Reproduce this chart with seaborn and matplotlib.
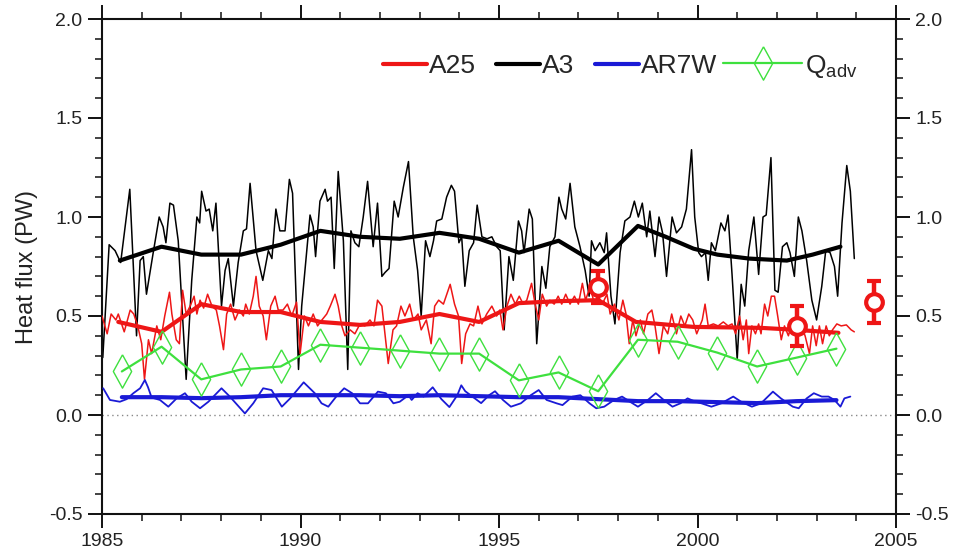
import matplotlib
matplotlib.use("Agg")
import matplotlib.pyplot as plt
from matplotlib.lines import Line2D
from matplotlib.ticker import MultipleLocator, FormatStrFormatter
import seaborn as sns
import pandas as pd

# ---------------- data ----------------
a3_time = [1985.02,1985.18,1985.33,1985.47,1985.70,1985.87,1985.96,1986.04,1986.12,1986.29,1986.44,1986.54,1986.61,1986.71,1986.80,
           1986.92,1987.12,1987.26,1987.39,1987.46,1987.51,1987.62,1987.70,1987.79,1987.87,1988.01,1988.10,1988.18,1988.31,1988.43,
           1988.56,1988.64,1988.73,1988.88,1989.05,1989.19,1989.28,1989.38,1989.48,1989.61,1989.72,1989.80,1989.95,
           1990.03,1990.24,1990.32,1990.38,1990.49,1990.62,1990.68,1990.77,1990.85,1990.95,1991.08,1991.19,1991.27,1991.37,1991.47,
           1991.58,1991.69,1991.83,1991.94,1992.05,1992.13,1992.23,1992.36,1992.46,1992.59,1992.72,1992.84,1992.95,1993.04,1993.15,
           1993.26,1993.35,1993.43,1993.56,1993.68,1993.80,1993.88,1993.99,1994.06,1994.14,1994.25,1994.36,1994.45,1994.57,1994.70,
           1994.82,1994.94,
           1995.03,1995.13,1995.25,1995.36,1995.49,1995.57,1995.63,1995.76,1995.84,1995.95,1996.08,1996.18,1996.28,1996.41,1996.51,
           1996.58,1996.68,1996.79,1996.91,1997.04,1997.17,1997.27,1997.33,1997.42,1997.54,1997.65,1997.71,1997.82,1997.92,1998.05,
           1998.17,1998.30,1998.41,1998.51,1998.61,1998.72,1998.80,1998.93,1999.03,1999.12,1999.22,1999.36,1999.47,1999.60,1999.72,
           1999.85,1999.93,
           2000.03,2000.10,2000.20,2000.27,2000.35,2000.45,2000.59,2000.69,2000.77,2000.87,2001.00,2001.10,2001.19,2001.29,2001.42,
           2001.54,2001.65,2001.73,2001.85,2001.95,2002.03,2002.14,2002.25,2002.33,2002.44,2002.54,2002.63,2002.75,2002.88,2003.00,
           2003.13,2003.23,2003.34,2003.45,2003.53,2003.64,2003.76,2003.85,2003.95]
a3_value = [0.29,0.86,0.83,0.77,1.14,0.40,0.78,0.80,0.61,0.82,1.00,0.95,0.87,1.07,1.06,
            0.88,0.18,0.68,1.00,0.97,1.13,1.03,1.04,0.93,1.07,0.55,0.73,0.79,0.55,0.77,
            0.93,0.94,1.17,0.83,0.68,0.83,0.79,1.04,0.93,0.93,1.19,1.12,0.23,
            0.55,1.01,0.95,0.80,1.08,1.14,1.08,1.10,0.74,1.23,0.88,0.23,0.93,0.87,0.85,
            1.00,1.18,0.85,1.07,0.70,0.72,0.74,1.08,1.00,1.15,1.28,0.90,0.73,0.50,0.88,
            0.80,0.88,0.98,0.99,1.10,1.16,1.13,0.87,0.90,0.65,0.83,0.87,1.06,0.90,0.89,
            0.90,0.85,
            0.83,0.43,0.80,0.68,0.98,0.93,0.82,1.04,0.99,0.36,0.75,0.64,0.85,0.90,1.10,
            1.04,0.99,1.17,0.95,0.85,0.73,0.60,0.88,0.83,0.87,0.82,0.92,0.60,0.46,0.82,
            0.98,1.00,1.08,1.00,1.07,0.90,1.03,0.80,1.00,0.92,0.70,1.00,0.92,0.95,1.04,
            1.34,1.00,
            0.82,0.80,0.82,0.68,0.87,0.83,0.97,0.93,1.01,0.71,0.28,0.66,0.55,0.83,1.00,
            0.71,1.00,1.01,1.30,0.63,0.62,0.85,0.87,0.82,0.70,1.00,0.93,0.78,0.58,0.48,
            0.65,0.83,0.82,0.75,0.60,0.97,1.26,1.13,0.79]

a3_smooth_time = [1985.45,1986.5,1987.5,1988.5,1989.5,1990.5,1991.5,1992.5,1993.5,1994.5,1995.5,1996.5,1997.5,
                  1998.5,1999.2,1999.9,2000.5,2001.3,2002.25,2002.9,2003.6]
a3_smooth_value = [0.78,0.85,0.81,0.81,0.86,0.93,0.90,0.89,0.92,0.89,0.82,0.88,0.76,
                   0.955,0.90,0.84,0.81,0.79,0.78,0.81,0.85]

a25_time = [1985.00,1985.13,1985.23,1985.35,1985.41,1985.56,1985.71,1985.80,1985.90,1986.00,1986.07,1986.17,1986.25,1986.38,
            1986.48,1986.58,1986.70,1986.76,1986.87,1986.95,1987.03,1987.12,1987.22,1987.32,1987.39,1987.47,1987.56,1987.66,
            1987.77,1987.88,1987.96,1988.06,1988.14,1988.24,1988.35,1988.46,1988.56,1988.62,1988.71,1988.81,1988.88,1988.96,
            1989.06,1989.14,1989.25,1989.36,1989.44,1989.56,1989.67,1989.78,1989.90,
            1989.99,1990.10,1990.20,1990.32,1990.43,1990.54,1990.66,1990.75,1990.87,1990.95,1991.04,1991.12,1991.25,1991.37,
            1991.50,1991.62,1991.75,1991.85,1991.94,1992.05,1992.21,1992.33,1992.42,1992.53,1992.63,1992.75,1992.84,1992.96,
            1993.04,1993.17,1993.29,1993.38,1993.48,1993.60,1993.77,1993.88,1993.98,1994.06,1994.16,1994.27,1994.36,1994.47,
            1994.57,1994.69,1994.82,1994.94,
            1995.02,1995.10,1995.20,1995.30,1995.41,1995.51,1995.61,1995.70,1995.82,1995.91,1996.00,1996.09,1996.20,1996.28,
            1996.39,1996.49,1996.58,1996.68,1996.79,1996.90,1997.00,1997.10,1997.18,1997.30,1997.40,1997.50,1997.60,1997.72,
            1997.80,1997.91,1998.02,1998.12,1998.20,1998.28,1998.37,1998.45,1998.56,1998.64,1998.75,1998.85,1998.93,1999.03,
            1999.14,1999.25,1999.35,1999.47,1999.58,1999.68,1999.78,1999.88,1999.98,
            2000.12,2000.19,2000.27,2000.40,2000.52,2000.65,2000.77,2000.87,2000.96,2001.06,2001.15,2001.23,2001.29,2001.37,
            2001.46,2001.54,2001.60,2001.69,2001.77,2001.86,2001.94,2002.02,2002.11,2002.19,2002.29,2002.40,2002.52,2002.61,
            2002.71,2002.82,2002.90,2002.99,2003.07,2003.15,2003.24,2003.32,2003.40,2003.51,2003.62,2003.75,2003.87,2003.95]
a25_value = [0.50,0.41,0.51,0.48,0.51,0.42,0.53,0.51,0.45,0.36,0.18,0.38,0.31,0.45,
             0.38,0.50,0.62,0.51,0.38,0.36,0.63,0.51,0.55,0.60,0.51,0.58,0.54,0.61,
             0.55,0.53,0.45,0.33,0.51,0.56,0.48,0.53,0.50,0.56,0.51,0.60,0.70,0.55,
             0.50,0.38,0.55,0.60,0.53,0.53,0.56,0.50,0.57,
             0.31,0.50,0.45,0.51,0.45,0.48,0.51,0.55,0.61,0.55,0.45,0.40,0.43,0.41,
             0.46,0.45,0.48,0.45,0.58,0.55,0.26,0.43,0.45,0.55,0.50,0.56,0.48,0.51,
             0.43,0.48,0.36,0.55,0.58,0.56,0.66,0.56,0.50,0.26,0.41,0.46,0.45,0.55,
             0.46,0.51,0.55,0.50,
             0.53,0.43,0.55,0.61,0.56,0.60,0.56,0.58,0.665,0.56,0.48,0.61,0.55,0.58,
             0.56,0.60,0.56,0.61,0.56,0.60,0.56,0.665,0.58,0.65,0.56,0.60,0.56,0.61,
             0.51,0.56,0.48,0.58,0.51,0.36,0.48,0.40,0.48,0.41,0.51,0.53,0.45,0.31,
             0.45,0.41,0.51,0.41,0.50,0.45,0.51,0.48,0.41,
             0.48,0.56,0.45,0.46,0.45,0.47,0.45,0.46,0.41,0.50,0.38,0.48,0.31,0.45,
             0.41,0.46,0.41,0.56,0.50,0.60,0.60,0.50,0.38,0.45,0.40,0.48,0.41,0.45,
             0.40,0.31,0.45,0.35,0.45,0.36,0.45,0.40,0.43,0.46,0.45,0.455,0.43,0.42]

a25_smooth_time = [1985.41,1986.5,1987.5,1988.5,1989.5,1990.5,1991.5,1992.5,1993.5,1994.5,1995.5,1996.5,1997.5,
                   1998.45,1999.9,2001.6,2002.5,2003.55]
a25_smooth_value = [0.47,0.42,0.56,0.52,0.52,0.47,0.455,0.47,0.51,0.47,0.565,0.575,0.58,
                    0.47,0.445,0.44,0.43,0.415]

ar7w_time = [1985.03,1985.20,1985.45,1985.62,1985.79,1985.96,1986.08,1986.16,1986.25,1986.46,1986.67,1986.88,1987.09,
             1987.26,1987.47,1987.68,1988.01,1988.22,1988.60,1988.81,1989.06,1989.27,1989.53,1989.74,1990.08,1990.36,
             1990.53,1990.70,1990.90,1991.10,1991.30,1991.50,1991.70,1991.95,1992.15,1992.34,1992.50,1992.72,1992.80,
             1992.95,1993.10,1993.33,1993.55,1993.75,1993.95,1994.05,1994.15,1994.35,1994.55,1994.75,1994.90,
             1995.10,1995.30,1995.55,1995.80,1996.00,1996.20,1996.45,1996.60,1996.85,1997.05,1997.28,1997.45,1997.65,
             1997.90,1998.10,1998.30,1998.50,1998.75,1998.95,1999.15,1999.37,1999.57,1999.75,1999.95,
             2000.10,2000.35,2000.60,2000.90,2001.10,2001.37,2001.60,2001.90,2002.10,2002.40,2002.55,2002.75,2002.93,
             2003.13,2003.30,2003.45,2003.60,2003.70,2003.85]
ar7w_value = [0.135,0.076,0.067,0.080,0.110,0.135,0.177,0.140,0.088,0.076,0.042,0.084,0.110,
              0.067,0.034,0.067,0.135,0.093,0.008,0.059,0.135,0.126,0.042,0.084,0.165,0.110,
              0.059,0.042,0.093,0.135,0.110,0.059,0.059,0.118,0.110,0.059,0.067,0.100,0.076,
              0.110,0.093,0.140,0.080,0.040,0.100,0.150,0.120,0.090,0.060,0.100,0.120,
              0.076,0.042,0.059,0.100,0.126,0.076,0.059,0.050,0.093,0.100,0.059,0.034,0.042,
              0.076,0.093,0.067,0.042,0.076,0.110,0.076,0.042,0.059,0.084,0.067,
              0.059,0.042,0.059,0.093,0.067,0.042,0.059,0.118,0.084,0.042,0.034,0.084,0.110,
              0.093,0.093,0.076,0.042,0.084,0.093]

ar7w_smooth_time = [1985.5,1986.5,1987.5,1988.5,1989.5,1990.5,1991.5,1992.5,1993.5,1994.5,1995.5,1996.5,1997.5,
                    1998.5,1999.5,2000.5,2001.5,2002.5,2003.5]
ar7w_smooth_value = [0.09,0.09,0.085,0.09,0.10,0.10,0.10,0.095,0.10,0.095,0.09,0.09,0.08,
                     0.07,0.07,0.065,0.06,0.07,0.075]

qadv_time = [1985.5,1986.5,1987.5,1988.5,1989.5,1990.5,1991.5,1992.5,1993.5,1994.5,1995.5,1996.5,1997.5,
             1998.5,1999.5,2000.5,2001.5,2002.5,2003.5]
qadv_value = [0.22,0.345,0.18,0.23,0.245,0.355,0.34,0.325,0.31,0.31,0.175,0.215,0.12,
              0.38,0.37,0.315,0.245,0.29,0.335]

obs_time = [1997.5,2002.5,2004.45]
obs_value = [0.645,0.45,0.57]
obs_err = [0.08,0.10,0.105]

legend_labels = ["A25", "A3", "AR7W", r"Q$_{\rm adv}$"]

# ---------------- style ----------------
sns.set_theme(style="ticks")
plt.rcParams["font.family"] = ["Liberation Sans", "DejaVu Sans"]
plt.rcParams["mathtext.fontset"] = "custom"
plt.rcParams["mathtext.rm"] = "Liberation Sans"
plt.rcParams["mathtext.it"] = "Liberation Sans:italic"
plt.rcParams["mathtext.bf"] = "Liberation Sans:bold"

RED = "#ee1616"
BLACK = "#000000"
BLUE = "#1a1ad6"
GREEN = "#3ee03e"

fig = plt.figure(figsize=(9.58, 5.58), dpi=100)
ax = fig.add_axes([102/958, 1 - 514/558, 794/958, 495/558])

ax.axhline(0, color="#888888", lw=1.0, ls=(0, (1, 2.5)), zorder=1)

sns.lineplot(x=a3_time, y=a3_value, ax=ax, color=BLACK, lw=1.1, estimator=None, sort=False, zorder=2)
sns.lineplot(x=a3_smooth_time, y=a3_smooth_value, ax=ax, color=BLACK, lw=3.0, estimator=None, sort=False, zorder=3)
sns.lineplot(x=a25_time, y=a25_value, ax=ax, color=RED, lw=1.1, estimator=None, sort=False, zorder=4)
sns.lineplot(x=a25_smooth_time, y=a25_smooth_value, ax=ax, color=RED, lw=3.0, estimator=None, sort=False, zorder=5)
sns.lineplot(x=ar7w_time, y=ar7w_value, ax=ax, color=BLUE, lw=1.3, estimator=None, sort=False, zorder=4)
sns.lineplot(x=ar7w_smooth_time, y=ar7w_smooth_value, ax=ax, color=BLUE, lw=3.0, estimator=None, sort=False, zorder=5)

diamond = [(0, 1), (0.55, 0), (0, -1), (-0.55, 0), (0, 1)]
sns.lineplot(x=qadv_time, y=qadv_value, ax=ax, color=GREEN, lw=1.6, estimator=None, sort=False,
             marker=diamond, markersize=24, markerfacecolor="none", markeredgecolor=GREEN,
             markeredgewidth=1.0, zorder=6)

ax.errorbar(obs_time, obs_value, yerr=obs_err, fmt="o", color=RED, mfc="white", mec=RED,
            ms=12, mew=3.0, elinewidth=3.2, capsize=5, capthick=3.2, zorder=8)

# ---------------- axes ----------------
ax.set_xlim(1985, 2005)
ax.set_ylim(-0.5, 2.0)
ax.xaxis.set_major_locator(MultipleLocator(5))
ax.xaxis.set_minor_locator(MultipleLocator(1))
ax.yaxis.set_major_locator(MultipleLocator(0.5))
ax.yaxis.set_minor_locator(MultipleLocator(0.1))
ax.yaxis.set_major_formatter(FormatStrFormatter("%.1f"))
ax.xaxis.set_major_formatter(FormatStrFormatter("%d"))

for s in ax.spines.values():
    s.set_visible(True)
    s.set_linewidth(1.5)
    s.set_color("#111111")

ax.tick_params(which="both", direction="out", top=True, right=True, labelright=True,
               labeltop=False, color="#111111")
ax.tick_params(which="major", length=10, width=1.4, labelsize=14, pad=4, labelcolor="#222222")
ax.tick_params(which="minor", length=5, width=1.1)

ax.set_ylabel("Heat flux (PW)", fontsize=17, labelpad=8, color="#222222")
ax.set_xlabel("")

# ---------------- legends ----------------
h1 = [Line2D([], [], color=RED, lw=3.0),
      Line2D([], [], color=BLACK, lw=3.0),
      Line2D([], [], color=BLUE, lw=3.0)]
leg1 = ax.legend(h1, legend_labels[:3], ncol=3, frameon=False, fontsize=19,
                 loc="center left", bbox_to_anchor=((383 - 102) / 794, (514 - 66) / 495),
                 borderpad=0, borderaxespad=0, handlelength=1.67, handletextpad=0.08,
                 columnspacing=0.76)
ax.add_artist(leg1)
h2 = [Line2D([], [], color=GREEN, lw=1.6, marker=diamond, markersize=24,
             markerfacecolor="none", markeredgecolor=GREEN, markeredgewidth=1.0)]
ax.legend(h2, legend_labels[3:], frameon=False, fontsize=19,
          loc="center left", bbox_to_anchor=((723 - 102) / 794, (514 - 66) / 495),
          borderpad=0, borderaxespad=0, handlelength=3.0, handletextpad=0.1)

fig.savefig("out.png", dpi=100)
